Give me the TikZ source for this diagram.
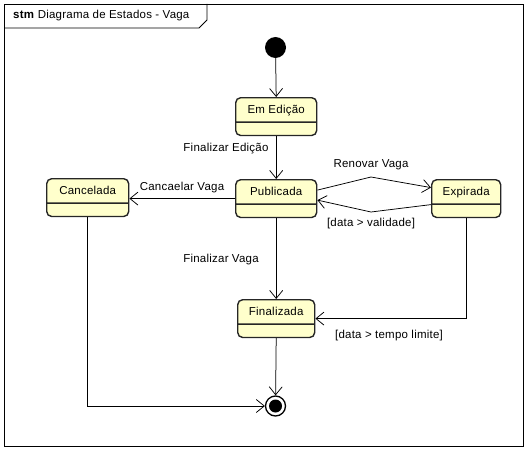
\documentclass[tikz,border=0pt]{standalone}
\usepackage{fontspec}
\setmainfont{Liberation Sans}[LetterSpace=2]
\usetikzlibrary{arrows.meta,shapes.multipart}
\definecolor{statefill}{RGB}{255,255,204}
\begin{document}
\begin{tikzpicture}[x=1pt,y=-1pt,
  font=\fontsize{11.5}{13}\selectfont,
  stbox/.style={rectangle split, rectangle split parts=2, draw=black!85,
    line width=1.4pt, rounded corners=5pt, fill=statefill,
    inner xsep=2pt, inner ysep=0pt, anchor=north west},
  arr/.style={draw, line width=0.75pt, -{Straight Barb[length=8pt,width=13pt]}},
  lbl/.style={inner sep=1pt}
]
\useasboundingbox (0,0) rectangle (527,452);
\draw[line width=0.8pt] (4,4) rectangle (523,446);
\draw[line width=0.8pt] (4,28) -- (199,28) -- (207,20) -- (207,4);
\node[anchor=west, inner sep=0pt] (title) at (13,16) {\textbf{stm} Diagrama de Estados - Vaga};

\node[circle, fill=black, minimum size=21pt, inner sep=0pt] (init) at (275.5,47.5) {};
\node[stbox, minimum width=81pt] (emed) at (235,97) {\rule[-8pt]{0pt}{23pt}Em Edição\nodepart{second}\rule{0pt}{12pt}};
\node[stbox, minimum width=81pt] (pub) at (235,179) {\rule[-8pt]{0pt}{23pt}Publicada\nodepart{second}\rule{0pt}{12pt}};
\node[stbox, minimum width=82pt] (canc) at (46,178) {\rule[-8pt]{0pt}{23pt}Cancelada\nodepart{second}\rule{0pt}{12pt}};
\node[stbox, minimum width=69pt] (exp) at (431,179) {\rule[-8pt]{0pt}{23pt}Expirada\nodepart{second}\rule{0pt}{12pt}};
\node[stbox, minimum width=77pt] (fin) at (237,299) {\rule[-8pt]{0pt}{23pt}Finalizada\nodepart{second}\rule{0pt}{12pt}};
\node[circle, draw, line width=1.3pt, minimum size=20pt, inner sep=0pt,
  path picture={\fill (path picture bounding box.center) circle (6.5pt);}] (final) at (275.5,406) {};

\coordinate (rtop) at (371,177);
\coordinate (rbot) at (371,212);

\draw[arr] (init) -- (emed.north);
\draw[arr] (emed.south) -- (pub.north);
\draw[arr] (pub.west) -- (pub.west -| canc.east);
\draw[arr] ([yshift=8.5pt]pub.east) -- (rtop) -- ([yshift=11pt]exp.west);
\draw[arr] ([yshift=-6pt]exp.west) -- (rbot) -- ([yshift=-1.5pt]pub.east);
\draw[arr] (pub.south) -- (fin.north);
\draw[arr] (exp.south) |- (fin.east);
\draw[arr] (canc.south) |- (final);
\draw[arr] (fin.south) -- (final);

\node[lbl] (lfe) at (226,149) {Finalizar Edição};
\node[lbl] (lcv) at (182,188) {Cancaelar Vaga};
\node[lbl] (lrv) at (371,165) {Renovar Vaga};
\node[lbl] (ldv) at (371,224) {[data > validade]};
\node[lbl] (lfv) at (221,260) {Finalizar Vaga};
\node[lbl] (ltl) at (389,336) {[data > tempo limite]};
\end{tikzpicture}
\end{document}
